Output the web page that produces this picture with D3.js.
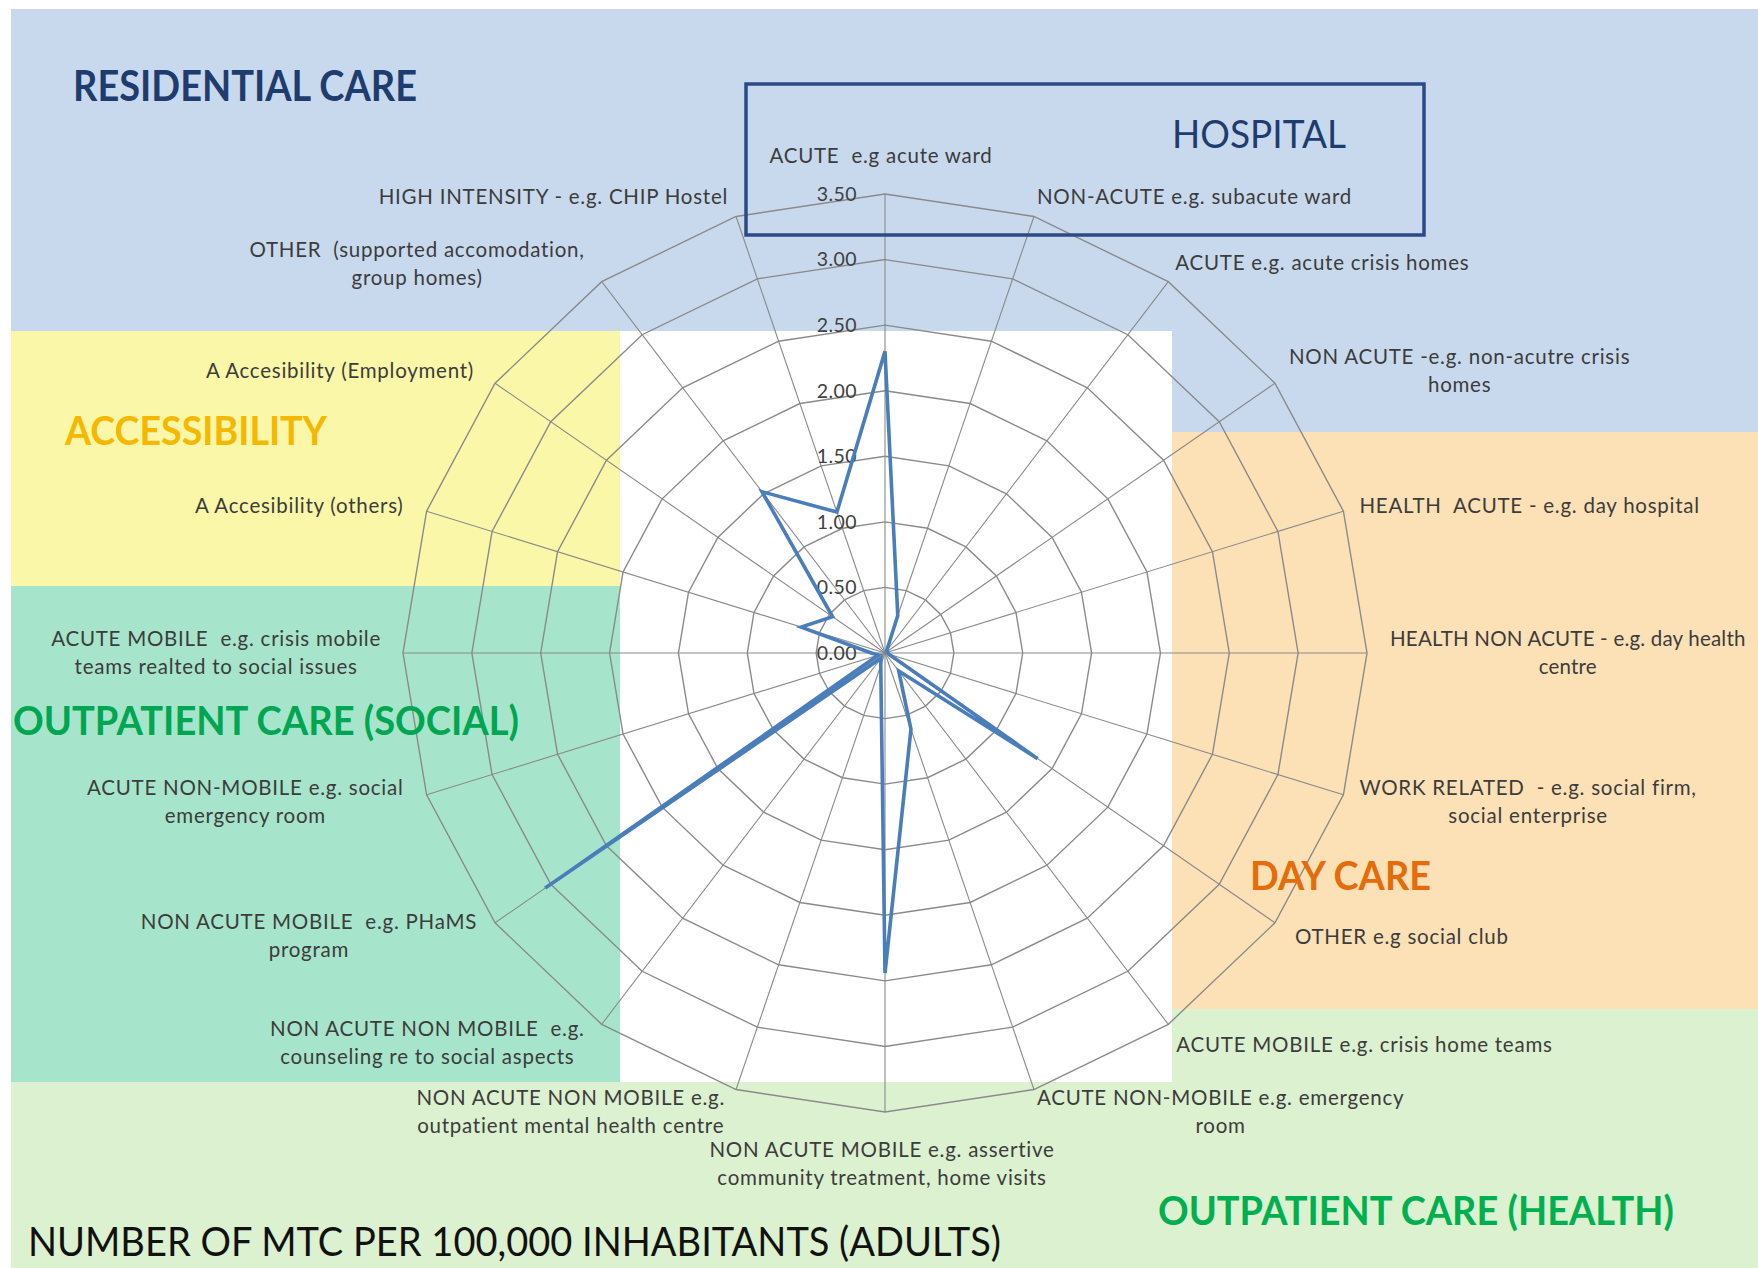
<!DOCTYPE html>
<html><head><meta charset="utf-8">
<script src="https://cdn.jsdelivr.net/npm/d3@7"></script>
<style>
body{margin:0;background:#fff}
svg{display:block}
text{white-space:pre}
</style>
</head><body>
<svg id="chart" width="1758" height="1268"></svg>
<script>
// ---------- data ----------
const categories = [
  ["ACUTE  e.g acute ward"],
  ["NON-ACUTE e.g. subacute ward"],
  ["ACUTE e.g. acute crisis homes"],
  ["NON ACUTE -e.g. non-acutre crisis", "homes"],
  ["HEALTH  ACUTE - e.g. day hospital"],
  ["HEALTH NON ACUTE - e.g. day health", "centre"],
  ["WORK RELATED  - e.g. social firm,", "social enterprise"],
  ["OTHER e.g social club"],
  ["ACUTE MOBILE e.g. crisis home teams"],
  ["ACUTE NON-MOBILE e.g. emergency", "room"],
  ["NON ACUTE MOBILE e.g. assertive", "community treatment, home visits"],
  ["NON ACUTE NON MOBILE e.g.", "outpatient mental health centre"],
  ["NON ACUTE NON MOBILE  e.g.", "counseling re to social aspects"],
  ["NON ACUTE MOBILE  e.g. PHaMS", "program"],
  ["ACUTE NON-MOBILE e.g. social", "emergency room"],
  ["ACUTE MOBILE  e.g. crisis mobile", "teams realted to social issues"],
  ["A Accesibility (others)"],
  ["A Accesibility (Employment)"],
  ["OTHER  (supported accomodation,", "group homes)"],
  ["HIGH INTENSITY - e.g. CHIP Hostel"]
];
const values = [2.30, 0.30, 0.02, 0.02, 0.02, 0.02, 0.03, 1.37, 0.17, 0.61,
                2.44, 0.10, 0.05, 3.05, 0.05, 0.10, 0.64, 0.47, 1.52, 1.13];
const tickValues = [0, 0.5, 1.0, 1.5, 2.0, 2.5, 3.0, 3.5];
const tickLabels = ["0.00", "0.50", "1.00", "1.50", "2.00", "2.50", "3.00", "3.50"];
const regionTitles = ["RESIDENTIAL CARE", "HOSPITAL", "ACCESSIBILITY", "OUTPATIENT CARE (SOCIAL)",
                      "DAY CARE", "OUTPATIENT CARE (HEALTH)"];
const chartTitle = "NUMBER OF MTC PER 100,000 INHABITANTS (ADULTS)";

// ---------- layout ----------
const W = 1758, H = 1268;
const cx = 885, cy = 653;
const svg = d3.select("#chart");
const FONT = "Lato, 'Open Sans', sans-serif";

// background zones
const zones = [
  {x: 11, y: 9, w: 1747, h: 423, fill: "#c8d9ee"},
  {x: 11, y: 331, w: 609, h: 255, fill: "#fbf7a8"},
  {x: 620, y: 331, w: 552, h: 751, fill: "#ffffff"},
  {x: 1172, y: 432, w: 586, h: 577, fill: "#fde1b6"},
  {x: 11, y: 586, w: 609, h: 496, fill: "#a6e5cb"},
  {x: 11, y: 1082, w: 1747, h: 186, fill: "#dcf1d0"},
  {x: 1172, y: 1009, w: 586, h: 73, fill: "#dcf1d0"}
];
svg.selectAll("rect.zone").data(zones).join("rect")
  .attr("class", "zone")
  .attr("x", d => d.x).attr("y", d => d.y).attr("width", d => d.w).attr("height", d => d.h)
  .attr("fill", d => d.fill);

// scales
const n = categories.length;
const angle = d3.scaleLinear().domain([0, n]).range([0, 2 * Math.PI]);
const rX = d3.scaleLinear().domain([0, 3.5]).range([0, 482]);
const rY = d3.scaleLinear().domain([0, 3.5]).range([0, 459]);
const px = (i, v) => cx + rX(v) * Math.sin(angle(i));
const py = (i, v) => cy - rY(v) * Math.cos(angle(i));

const g = svg.append("g");

// rings
const ringLine = d3.line().x(d => d[0]).y(d => d[1]).curve(d3.curveLinearClosed);
g.selectAll("path.ring").data(tickValues.filter(t => t > 0)).join("path")
  .attr("class", "ring")
  .attr("d", t => ringLine(d3.range(n).map(i => [px(i, t), py(i, t)])))
  .attr("fill", "none").attr("stroke", "#8a8a8a").attr("stroke-width", 1.4);

// spokes
g.selectAll("line.spoke").data(d3.range(n)).join("line")
  .attr("class", "spoke")
  .attr("x1", cx).attr("y1", cy)
  .attr("x2", i => px(i, 3.5)).attr("y2", i => py(i, 3.5))
  .attr("stroke", "#8a8a8a").attr("stroke-width", 1.1);

// tick labels
g.selectAll("text.tick").data(tickValues).join("text")
  .attr("class", "tick")
  .attr("x", cx - 28).attr("y", t => py(0, t))
  .attr("dy", "0.35em")
  .attr("text-anchor", "end")
  .attr("font-family", FONT).attr("font-size", 19.5)
  .attr("letter-spacing", "0.4px")
  .attr("fill", "#404040")
  .text((t, i) => tickLabels[i]);

// data series
const seriesLine = d3.line()
  .x((v, i) => px(i, v)).y((v, i) => py(i, v))
  .curve(d3.curveLinearClosed);
g.append("path")
  .attr("d", seriesLine(values))
  .attr("fill", "none").attr("stroke", "#4a7ebb").attr("stroke-width", 3.6)
  .attr("stroke-linejoin", "miter").attr("stroke-miterlimit", 4);

// category labels: [anchor, dx, dy] relative to outer vertex
const labelNudge = [
  ["middle", -4, -38], ["start", 3, -20], ["start", 7, -19], ["start", 14, -12],
  ["start", 16, -5], ["start", 23, 0], ["start", 16, 7], ["start", 20, 14],
  ["start", 8, 20], ["start", 3, 22], ["middle", -3, 52], ["end", -11, 22],
  ["end", -17, 18], ["end", -18, 13], ["end", -23, 7], ["end", -22, 0],
  ["end", -23, -5], ["end", -21, -12], ["end", -17, -18], ["end", -8, -20]
];
const LH = 28;
categories.forEach((lines, i) => {
  const [anchor, dx, dy] = labelNudge[i];
  let ax = px(i, 3.5) + dx;
  const ay = py(i, 3.5) + dy;
  const grp = g.append("g");
  const texts = lines.map((s, k) => grp.append("text")
    .attr("font-family", FONT).attr("font-size", 20.5)
    .attr("letter-spacing", "0.75px")
    .attr("fill", "#3c3c3c").attr("text-anchor", "middle")
    .attr("y", ay + (k - (lines.length - 1) / 2) * LH).attr("dy", "0.35em")
    .text(s));
  let bw = d3.max(texts, t => t.node().getComputedTextLength());
  // keep the block inside the picture
  if (anchor === "start" && ax + bw > W - 4) {
    texts.forEach(t => t.attr("letter-spacing", "0.2px"));
    bw = d3.max(texts, t => t.node().getComputedTextLength());
    if (ax + bw > W - 4) ax = W - 4 - bw;
  }
  const center = anchor === "start" ? ax + bw / 2 : anchor === "end" ? ax - bw / 2 : ax;
  texts.forEach(t => t.attr("x", center));
});

// hospital box
svg.append("rect").attr("x", 746).attr("y", 84).attr("width", 678).attr("height", 151)
  .attr("fill", "none").attr("stroke", "#2b4a86").attr("stroke-width", 3.5);

// region titles
const titleStyle = [
  {x: 73, y: 101, size: 42, weight: 700, fill: "#1f3c6e", len: 344},
  {x: 1172, y: 148, size: 38, weight: 400, fill: "#1f3c6e", len: 174},
  {x: 65, y: 445, size: 40, weight: 700, fill: "#f5b800", len: 262},
  {x: 13, y: 735, size: 40, weight: 700, fill: "#00a651", len: 506},
  {x: 1250, y: 890, size: 40, weight: 700, fill: "#e46c0a", len: 181},
  {x: 1158, y: 1225, size: 40, weight: 700, fill: "#00b050", len: 516}
];
svg.selectAll("text.region").data(regionTitles).join("text")
  .attr("class", "region")
  .attr("x", (d, i) => titleStyle[i].x).attr("y", (d, i) => titleStyle[i].y)
  .attr("font-family", FONT)
  .attr("font-size", (d, i) => titleStyle[i].size)
  .attr("font-weight", (d, i) => titleStyle[i].weight)
  .attr("fill", (d, i) => titleStyle[i].fill)
  .attr("textLength", (d, i) => titleStyle[i].len)
  .attr("lengthAdjust", "spacingAndGlyphs")
  .text(d => d);

svg.append("text")
  .attr("x", 28).attr("y", 1256)
  .attr("font-family", FONT).attr("font-size", 40)
  .attr("fill", "#111")
  .attr("textLength", 973).attr("lengthAdjust", "spacingAndGlyphs")
  .text(chartTitle);
</script>
</body></html>
